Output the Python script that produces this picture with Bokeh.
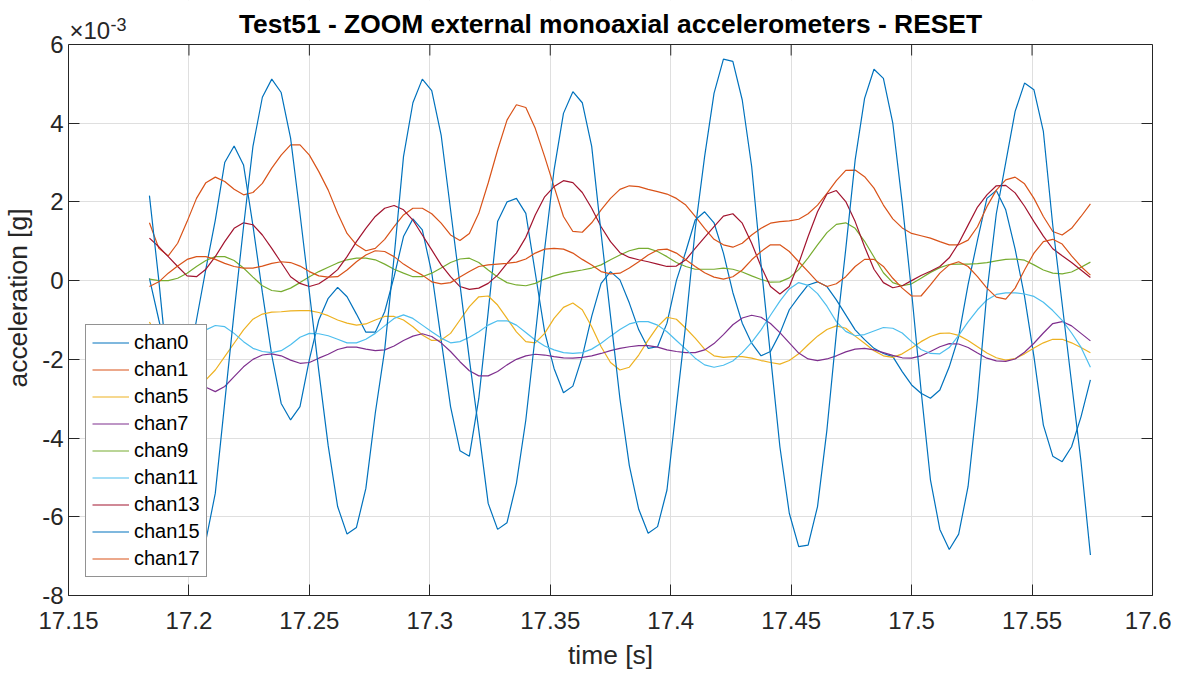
import numpy as np
from bokeh.plotting import figure
from bokeh.models import (Range1d, FixedTicker, CustomJSTickFormatter, LinearAxis, Label,
                          BoxAnnotation, Span)
from bokeh.embed import file_html
from bokeh.resources import INLINE

# sampling grid of the recording (256 Hz)
START_TIME = 17.1836
SAMPLE_RATE = 256.0
N_SAMPLES = 101
time = START_TIME + np.arange(N_SAMPLES) / SAMPLE_RATE

# accelerations, in units of 1e-3 g (axis multiplier x10^-3)
chan0 = [0.06, -1.0, -2.0, -2.6, -2.3, -1.0, 0.3, 1.54, 3.0, 3.42,
         2.94, 1.4, -0.3, -1.9, -3.12, -3.54, -3.2, -2.0, -1.0, -0.45,
         -0.17, -0.41, -0.85, -1.31, -1.31, -0.79, 0.1, 1.12, 1.57, 1.29,
         0.2, -1.5, -3.2, -4.32, -4.46, -3.0, -0.8, 1.5, 2.0, 2.09,
         1.71, 0.2, -1.3, -2.23, -2.85, -2.68, -1.93, -0.91, -0.07, 0.23,
         0.02, -0.57, -1.25, -1.72, -1.68, -1.08, 0.0, 0.74, 1.54, 1.75,
         1.47, 0.7, -0.3, -1.08, -1.59, -1.91, -1.8, -1.34, -0.74, -0.41,
         -0.11, -0.03, -0.15, -0.49, -0.87, -1.25, -1.5, -1.72, -1.85, -1.93,
         -2.31, -2.65, -2.86, -2.99, -2.78, -2.19, -1.42, -0.1, 1.03, 2.09,
         2.29, 1.8, 0.8, -0.4, -1.93, -3.67, -4.46, -4.6, -4.22, -3.46, -2.52]
chan1 = [1.47, 0.82, 0.63, 0.95, 1.50, 2.09, 2.49, 2.63, 2.52, 2.32,
         2.18, 2.24, 2.47, 2.86, 3.19, 3.45, 3.45, 3.19, 2.77, 2.30, 1.71,
         1.20, 0.91, 0.76, 0.82, 1.05, 1.37, 1.67, 1.84, 1.84, 1.70,
         1.46, 1.16, 1.02, 1.20, 1.71, 2.48, 3.32, 4.08, 4.47, 4.40,
         3.87, 3.15, 2.39, 1.63, 1.25, 1.23, 1.47, 1.80, 2.09, 2.32,
         2.41, 2.39, 2.32, 2.26, 2.20, 2.09, 1.92, 1.63, 1.33, 1.05,
         0.91, 0.85, 0.95, 1.16, 1.33, 1.46, 1.50, 1.52, 1.56, 1.70,
         1.92, 2.22, 2.54, 2.80, 2.81, 2.64, 2.35, 1.92, 1.57, 1.34,
         1.20, 1.14, 1.08, 0.99, 0.91, 0.91, 1.03, 1.37, 1.88, 2.30,
         2.56, 2.63, 2.46, 2.09, 1.63, 1.25, 1.16, 1.33, 1.63, 1.95]
chan5 = [-1.05, -1.5, -1.9, -2.3, -2.55, -2.65, -2.52, -2.27, -1.93, -1.59,
         -1.25, -0.98, -0.85, -0.80, -0.79, -0.77, -0.76, -0.76, -0.81, -0.89, -1.0,
         -1.08, -1.13, -1.10, -1.0, -0.91, -0.91, -1.0, -1.17, -1.38, -1.52,
         -1.51, -1.34, -1.0, -0.66, -0.41, -0.39, -0.62, -0.96, -1.30, -1.55,
         -1.58, -1.34, -0.96, -0.68, -0.57, -0.74, -1.17, -1.68, -2.08, -2.27,
         -2.20, -1.89, -1.51, -1.17, -0.93, -0.98, -1.21, -1.46, -1.74, -1.91,
         -1.95, -1.93, -1.93, -1.97, -2.03, -2.08, -2.12, -2.03, -1.86, -1.63,
         -1.41, -1.24, -1.15, -1.21, -1.41, -1.59, -1.78, -1.91, -1.95, -1.86,
         -1.71, -1.55, -1.42, -1.34, -1.33, -1.39, -1.52, -1.68, -1.84, -1.96,
         -2.02, -1.98, -1.86, -1.71, -1.58, -1.49, -1.49, -1.58, -1.70, -1.83]
chan7 = [-2.2, -2.35, -2.5, -2.6, -2.65, -2.68, -2.71, -2.82, -2.69, -2.44,
         -2.19, -2.0, -1.89, -1.86, -1.91, -2.02, -2.10, -2.08, -1.97, -1.87, -1.75,
         -1.69, -1.69, -1.74, -1.78, -1.76, -1.66, -1.52, -1.41, -1.35, -1.42,
         -1.58, -1.80, -2.06, -2.29, -2.42, -2.42, -2.31, -2.14, -2.0, -1.91,
         -1.87, -1.89, -1.93, -1.96, -1.97, -1.95, -1.91, -1.85, -1.78, -1.72,
         -1.68, -1.65, -1.65, -1.69, -1.76, -1.80, -1.83, -1.83, -1.76, -1.60,
         -1.37, -1.12, -0.95, -0.88, -0.93, -1.09, -1.32, -1.58, -1.84, -1.99,
         -2.03, -1.99, -1.91, -1.81, -1.74, -1.72, -1.76, -1.83, -1.90, -1.96,
         -1.97, -1.91, -1.80, -1.68, -1.60, -1.61, -1.70, -1.84, -1.97, -2.04,
         -2.05, -1.99, -1.82, -1.59, -1.33, -1.09, -1.04, -1.15, -1.34, -1.53]
chan9 = [0.04, 0.0, 0.0, 0.06, 0.19, 0.36, 0.51, 0.61, 0.61, 0.51,
         0.32, 0.09, -0.13, -0.25, -0.28, -0.19, -0.05, 0.10, 0.23, 0.34, 0.45,
         0.53, 0.57, 0.57, 0.53, 0.42, 0.29, 0.19, 0.10, 0.10, 0.19,
         0.32, 0.46, 0.55, 0.57, 0.46, 0.27, 0.09, -0.05, -0.11, -0.13,
         -0.07, 0.04, 0.12, 0.19, 0.23, 0.27, 0.32, 0.40, 0.53, 0.65,
         0.76, 0.82, 0.82, 0.74, 0.61, 0.46, 0.36, 0.29, 0.29, 0.29,
         0.32, 0.29, 0.22, 0.12, 0.03, -0.04, -0.03, 0.07, 0.28, 0.58,
         0.91, 1.22, 1.43, 1.47, 1.33, 1.00, 0.60, 0.20, -0.05, -0.13,
         -0.08, 0.06, 0.21, 0.33, 0.41, 0.42, 0.42, 0.43, 0.46, 0.50,
         0.54, 0.55, 0.52, 0.40, 0.27, 0.19, 0.17, 0.22, 0.34, 0.47]
chan11 = [-1.5, -1.45, -1.4, -1.35, -1.3, -1.27, -1.25, -1.14, -1.17, -1.34,
          -1.55, -1.72, -1.80, -1.83, -1.78, -1.63, -1.44, -1.34, -1.35, -1.40, -1.49,
          -1.58, -1.58, -1.49, -1.34, -1.15, -0.96, -0.87, -0.96, -1.13, -1.30,
          -1.46, -1.58, -1.55, -1.44, -1.30, -1.13, -1.02, -1.02, -1.13, -1.32,
          -1.51, -1.66, -1.76, -1.83, -1.85, -1.83, -1.74, -1.59, -1.41, -1.24,
          -1.10, -1.04, -1.04, -1.13, -1.30, -1.52, -1.74, -1.97, -2.14, -2.20,
          -2.15, -2.04, -1.83, -1.57, -1.25, -0.88, -0.52, -0.21, -0.05, -0.12,
          -0.33, -0.65, -1.04, -1.29, -1.40, -1.37, -1.28, -1.19, -1.21, -1.33,
          -1.55, -1.75, -1.85, -1.86, -1.70, -1.39, -1.05, -0.74, -0.49, -0.35,
          -0.31, -0.31, -0.34, -0.40, -0.55, -0.76, -1.01, -1.33, -1.69, -2.2]
chan13 = [1.08, 0.86, 0.61, 0.36, 0.12, 0.10, 0.29, 0.61, 0.99, 1.33,
          1.47, 1.42, 1.16, 0.82, 0.46, 0.10, -0.07, -0.15, -0.08, 0.08, 0.28,
          0.61, 0.99, 1.33, 1.63, 1.84, 1.91, 1.80, 1.54, 1.16, 0.78,
          0.40, 0.10, -0.15, -0.22, -0.19, -0.07, 0.14, 0.44, 0.70, 1.10,
          1.67, 2.13, 2.39, 2.54, 2.49, 2.24, 1.84, 1.37, 0.99, 0.71,
          0.59, 0.53, 0.48, 0.42, 0.36, 0.37, 0.53, 0.82, 1.10, 1.37,
          1.64, 1.70, 1.46, 0.95, 0.36, -0.15, -0.34, -0.15, 0.44, 1.12,
          1.75, 2.20, 2.29, 2.01, 1.50, 0.86, 0.29, -0.05, -0.18, -0.13,
          0.0, 0.13, 0.24, 0.36, 0.58, 0.95, 1.41, 1.87, 2.18, 2.41,
          2.42, 2.23, 1.89, 1.50, 1.13, 0.81, 0.63, 0.46, 0.27, 0.08]
chan15 = [2.16, 0.0, -2.4, -4.6, -6.1, -6.9, -6.6, -5.4, -3.1, -0.8,
          1.37, 3.41, 4.66, 5.12, 4.78, 3.62, 1.7, -0.3, -2.3, -4.2,
          -5.74, -6.44, -6.27, -5.28, -3.37, -1.76, 0.6, 3.15, 4.52, 5.12,
          4.83, 3.70, 1.8, -0.1, -2.0, -3.8, -5.66, -6.32, -6.15, -5.15,
          -3.54, -1.4, 0.8, 2.81, 4.25, 4.80, 4.52, 3.41, 1.2, -0.9,
          -3.0, -4.7, -5.81, -6.42, -6.25, -5.32, -3.2, -1.1, 1.3, 3.15,
          4.76, 5.63, 5.57, 4.59, 2.9, 0.4, -1.9, -4.22, -5.91, -6.76,
          -6.72, -5.74, -3.79, -1.34, 0.8, 3.07, 4.63, 5.37, 5.14, 4.0,
          1.97, -0.3, -2.78, -5.06, -6.32, -6.83, -6.44, -5.23, -3.0, -0.3,
          1.7, 3.0, 4.30, 5.02, 4.85, 3.79, 1.4, -0.6, -2.6, -4.6, -6.97]
chan17 = [-0.15, -0.03, 0.19, 0.37, 0.54, 0.61, 0.61, 0.54, 0.44, 0.36,
          0.32, 0.32, 0.37, 0.44, 0.48, 0.46, 0.37, 0.23, 0.12, 0.09, 0.10,
          0.27, 0.48, 0.65, 0.76, 0.74, 0.61, 0.42, 0.27, 0.14, -0.03,
          -0.08, -0.05, 0.09, 0.23, 0.36, 0.40, 0.42, 0.44, 0.47, 0.55,
          0.70, 0.80, 0.82, 0.80, 0.70, 0.54, 0.40, 0.23, 0.17, 0.19,
          0.32, 0.48, 0.65, 0.78, 0.80, 0.70, 0.53, 0.36, 0.20, 0.09,
          0.04, 0.10, 0.27, 0.53, 0.74, 0.91, 0.91, 0.74, 0.48, 0.23,
          -0.03, -0.15, -0.08, 0.10, 0.36, 0.54, 0.54, 0.36, 0.06, -0.19,
          -0.39, -0.39, -0.11, 0.19, 0.40, 0.48, 0.36, 0.10, -0.19, -0.42,
          -0.47, -0.19, 0.27, 0.70, 0.99, 1.05, 0.93, 0.63, 0.36, 0.14]

series_names = ["chan0", "chan1", "chan5", "chan7", "chan9",
                "chan11", "chan13", "chan15", "chan17"]
series_values = [chan0, chan1, chan5, chan7, chan9, chan11, chan13, chan15, chan17]
series_colors = ["#0072BD", "#D95319", "#EDB120", "#7E2F8E", "#77AC30",
                 "#4DBEEE", "#A2142F", "#0072BD", "#D95319"]

x_ticks = [17.15, 17.2, 17.25, 17.3, 17.35, 17.4, 17.45, 17.5, 17.55, 17.6]
y_ticks = [-8, -6, -4, -2, 0, 2, 4, 6]
X_MIN, X_MAX = 17.15, 17.6
Y_MIN, Y_MAX = -8, 6

title_text = "Test51 - ZOOM external monoaxial accelerometers - RESET"
x_label = "time [s]"
y_label = "acceleration [g]"

FONT = "Liberation Sans"
TXT = "#262626"

# layout: the frame is extended above the axes box so the title and the
# x10^-3 multiplier can be drawn as labels inside it
FIG_H = 672
BORDER_BOTTOM = 77
BOX_TOP_PX = 44            # distance of the axes box top below the figure top
frame_h = FIG_H - BORDER_BOTTOM
px_per_unit = (frame_h - BOX_TOP_PX) / (Y_MAX - Y_MIN)
y_view_top = Y_MIN + frame_h / px_per_unit
tick_len = 11 / px_per_unit

p = figure(width=1171, height=FIG_H, output_backend="svg", toolbar_location=None,
           title_location=None,
           x_range=Range1d(X_MIN, X_MAX), y_range=Range1d(Y_MIN, y_view_top),
           min_border_left=63, min_border_right=19, min_border_top=0,
           min_border_bottom=BORDER_BOTTOM)
p.outline_line_color = None
p.background_fill_color = "white"
p.border_fill_color = "white"

for name, vals, col in zip(series_names, series_values, series_colors):
    p.line(time, vals, line_color=col, line_width=1.2, legend_label=name)

xt = FixedTicker(ticks=x_ticks)
yt = FixedTicker(ticks=y_ticks)


def style_axis(ax, ticker, fmt, size):
    ax.ticker = ticker
    ax.formatter = fmt
    ax.major_tick_in = 11
    ax.major_tick_out = 0
    ax.minor_tick_line_color = None
    ax.axis_line_color = TXT
    ax.major_tick_line_color = TXT
    ax.major_label_text_font = FONT
    ax.major_label_text_font_size = size
    ax.major_label_text_color = TXT


style_axis(p.xaxis[0], xt, CustomJSTickFormatter(code="return String(Math.round(tick*100)/100);"), "24px")
style_axis(p.yaxis[0], yt, CustomJSTickFormatter(code="return String(Math.round(tick));"), "24px")
p.yaxis[0].bounds = (Y_MIN, Y_MAX)
p.xaxis[0].major_label_standoff = 16
p.yaxis[0].major_label_standoff = 5
for ax, lab, so in ((p.xaxis[0], x_label, 8), (p.yaxis[0], y_label, 6)):
    ax.axis_label = lab
    ax.axis_label_text_font = FONT
    ax.axis_label_text_font_size = "26.4px"
    ax.axis_label_text_font_style = "normal"
    ax.axis_label_text_color = TXT
    ax.axis_label_standoff = so

right_axis = LinearAxis(bounds=(Y_MIN, Y_MAX))
style_axis(right_axis, yt, CustomJSTickFormatter(code="return '';"), "1px")
right_axis.major_label_standoff = 0
p.add_layout(right_axis, "right")

p.xgrid.ticker = xt
p.ygrid.ticker = yt
p.xgrid.grid_line_color = "#dfdfdf"
p.ygrid.grid_line_color = "#dfdfdf"

# white band above the axes box, top edge of the box and its inward ticks
p.add_layout(BoxAnnotation(bottom=Y_MAX, fill_color="white", fill_alpha=1.0,
                           line_color=None))
p.segment(x0=x_ticks, x1=x_ticks, y0=[Y_MAX] * len(x_ticks),
          y1=[Y_MAX - tick_len] * len(x_ticks), line_color=TXT, line_width=1)
p.add_layout(Span(location=Y_MAX, dimension="width", line_color=TXT, line_width=1))

p.add_layout(Label(x=(X_MIN + X_MAX) / 2, y=Y_MAX, text=title_text, y_offset=21,
                   text_align="center", text_baseline="middle", text_font=FONT,
                   text_font_size="26.4px", text_font_style="bold", text_color="black"))
p.add_layout(Label(x=X_MIN, y=Y_MAX, text="\u00d710", x_offset=1, y_offset=14,
                   text_align="left", text_baseline="middle", text_font=FONT,
                   text_font_size="24px", text_color=TXT))
p.add_layout(Label(x=X_MIN, y=Y_MAX, text="-3", x_offset=42, y_offset=20,
                   text_align="left", text_baseline="middle", text_font=FONT,
                   text_font_size="18px", text_color=TXT))

lg = p.legend[0]
lg.location = (17, 18)
lg.margin = 0
lg.padding = 6
lg.spacing = 4
lg.glyph_width = 37
lg.glyph_height = 23
lg.label_height = 23
lg.label_standoff = 5
lg.label_text_font = FONT
lg.label_text_font_size = "20px"
lg.label_text_color = "black"
lg.border_line_color = TXT
lg.border_line_width = 1
lg.background_fill_alpha = 1.0

open("out.html", "w").write(file_html(p, INLINE))
